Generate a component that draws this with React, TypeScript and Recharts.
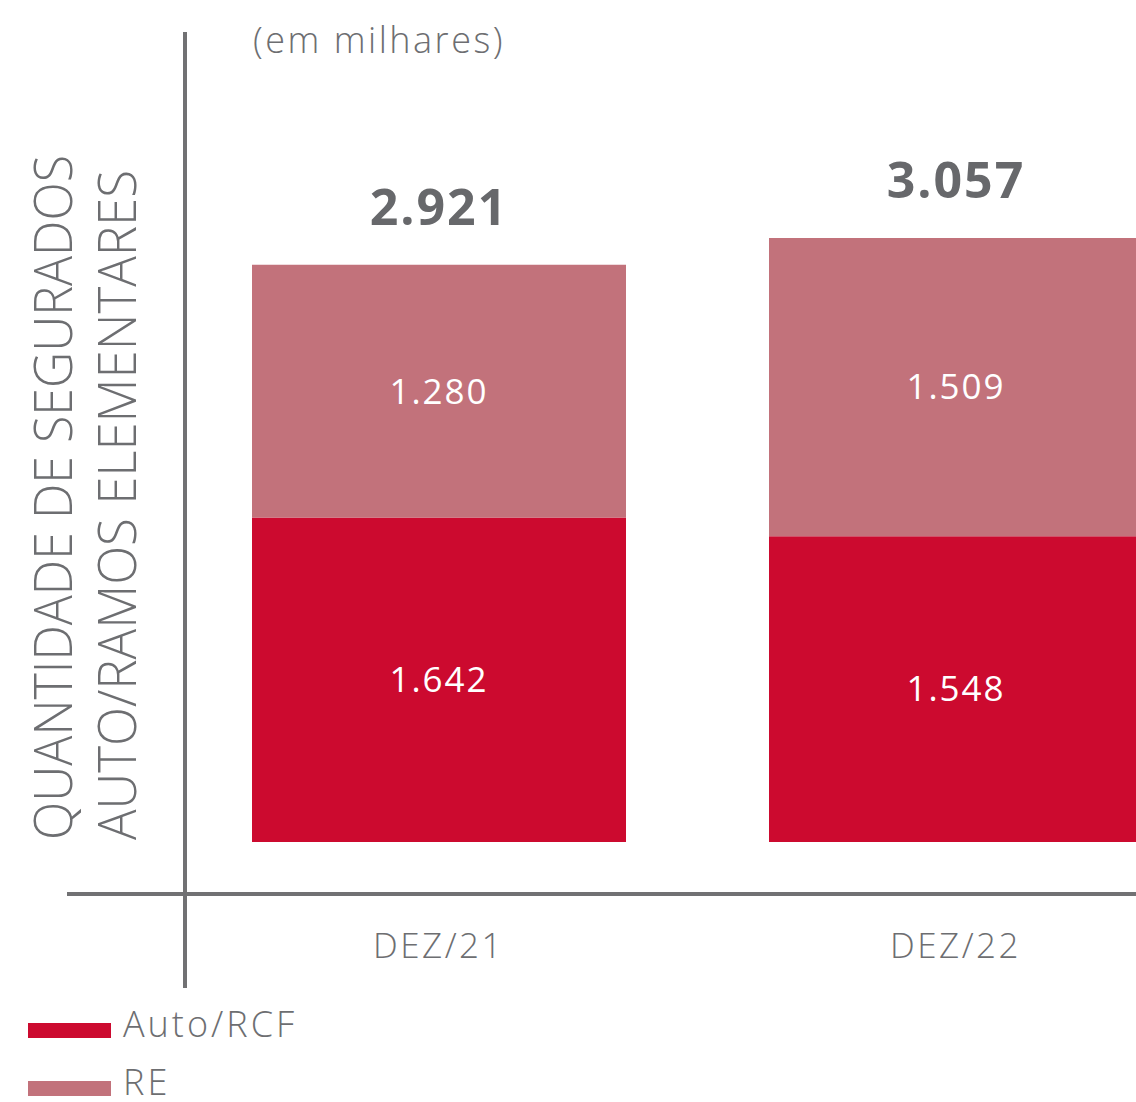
import { BarChart, Bar, XAxis, YAxis, LabelList } from "recharts";

const categories = ["DEZ/21", "DEZ/22"];
const autoRcf = [1642, 1548];
const re = [1280, 1509];
const totals = [2921, 3057];

const data = categories.map((cat, i) => ({
  cat,
  auto: autoRcf[i],
  re: re[i],
  total: totals[i],
}));

const GRAY = "#6d6e71";
const RED = "#cc0a2f";
const PINK = "#c2727b";
const FONT = "'Open Sans', Lato, sans-serif";

const fmt = (v: number) => String(v).replace(/\B(?=(\d{3})+(?!\d))/g, ".");

const CatTick = (props: any) => {
  const { x, y, payload } = props;
  return (
    <text
      x={x}
      y={y}
      dy={116}
      textAnchor="middle"
      fill={GRAY}
      fontSize={35}
      fontWeight={300}
      fontFamily={FONT}
      letterSpacing={2.5}
    >
      {payload.value}
    </text>
  );
};

const TotalLabel = (props: any) => {
  const { x, y, width, index } = props;
  return (
    <text
      x={x + width / 2}
      y={y - 40}
      textAnchor="middle"
      fill="#67686b"
      fontSize={50}
      fontWeight={700}
      fontFamily={FONT}
      letterSpacing={2}
    >
      {fmt(totals[index])}
    </text>
  );
};

export default function App() {
  return (
    <div
      style={{
        position: "absolute",
        left: 0,
        top: 0,
        width: 1136,
        height: 1102,
        overflow: "hidden",
        background: "#fff",
        fontFamily: FONT,
      }}
    >
      <div
        style={{
          position: "absolute",
          left: 253,
          top: 18,
          fontSize: 36,
          fontWeight: 300,
          letterSpacing: 2.5,
          color: GRAY,
          lineHeight: "44px",
        }}
      >
        (em milhares)
      </div>

      <svg
        width={160}
        height={900}
        style={{ position: "absolute", left: 0, top: 0 }}
      >
        <text
          transform="translate(72,840) rotate(-90)"
          fill={GRAY}
          fontSize={54}
          fontWeight={300}
          fontFamily={FONT}
          textLength={685}
          lengthAdjust="spacingAndGlyphs"
        >
          QUANTIDADE DE SEGURADOS
        </text>
        <text
          transform="translate(136,840) rotate(-90)"
          fill={GRAY}
          fontSize={54}
          fontWeight={300}
          fontFamily={FONT}
          textLength={670}
          lengthAdjust="spacingAndGlyphs"
        >
          AUTO/RAMOS ELEMENTARES
        </text>
      </svg>

      <div style={{ position: "absolute", left: 0, top: 0 }}>
        <BarChart
          width={1220}
          height={1000}
          data={data}
          margin={{ top: 238, right: 6, left: 180, bottom: 38 }}
        >
          <XAxis
            dataKey="cat"
            height={120}
            axisLine={false}
            tickLine={false}
            tickSize={0}
            tickMargin={0}
            tick={<CatTick />}
            interval={0}
          />
          <YAxis hide width={0} domain={[0, "dataMax"]} />
          <Bar
            dataKey="auto"
            stackId="a"
            fill={RED}
            barSize={374}
            isAnimationActive={false}
          >
            <LabelList
              dataKey="auto"
              position="center"
              fill="#fff"
              fontSize={35}
              fontFamily={FONT}
              letterSpacing={2}
              formatter={(v: any) => fmt(Number(v))}
            />
          </Bar>
          <Bar
            dataKey="re"
            stackId="a"
            fill={PINK}
            barSize={374}
            isAnimationActive={false}
          >
            <LabelList
              dataKey="re"
              position="center"
              fill="#fff"
              fontSize={35}
              fontFamily={FONT}
              letterSpacing={2}
              formatter={(v: any) => fmt(Number(v))}
            />
            <LabelList dataKey="total" content={<TotalLabel />} />
          </Bar>
        </BarChart>
      </div>

      {/* axis lines */}
      <div
        style={{
          position: "absolute",
          left: 183,
          top: 32,
          width: 4,
          height: 956,
          background: "#717173",
        }}
      />
      <div
        style={{
          position: "absolute",
          left: 67,
          top: 892,
          width: 1069,
          height: 4,
          background: "#717173",
        }}
      />

      {/* legend */}
      {[
        { name: "Auto/RCF", color: RED, top: 1023 },
        { name: "RE", color: PINK, top: 1081 },
      ].map((item) => (
        <div key={item.name}>
          <div
            style={{
              position: "absolute",
              left: 28,
              top: item.top,
              width: 83,
              height: 15,
              background: item.color,
            }}
          />
          <div
            style={{
              position: "absolute",
              left: 123,
              top: item.top - 21,
              fontSize: 36,
              fontWeight: 300,
              letterSpacing: 3,
              color: GRAY,
              lineHeight: "44px",
            }}
          >
            {item.name}
          </div>
        </div>
      ))}
    </div>
  );
}
